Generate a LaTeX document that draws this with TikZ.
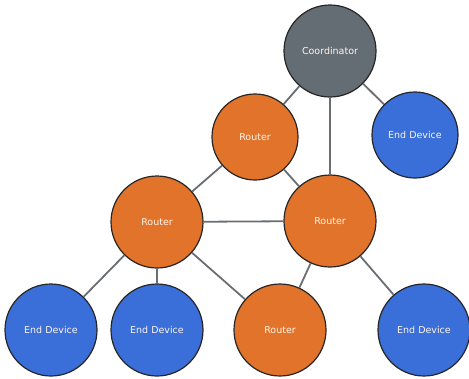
\documentclass[tikz,border=0pt]{standalone}
\usepackage{fontspec}
\setsansfont{DejaVu Sans}
\usepackage{xcolor}

\definecolor{coordgray}{HTML}{646C74}
\definecolor{routerorange}{HTML}{E2732A}
\definecolor{enddevblue}{HTML}{3A6ED8}
\definecolor{linkgray}{HTML}{6A6E72}

\begin{document}
\begin{tikzpicture}[
  x=1pt,
  y=-1pt,
  device/.style={
    circle,
    draw=black!85,
    line width=1.2pt,
    minimum size=92pt,
    inner sep=0pt,
    text=white!92!orange,
    font=\sffamily\fontsize{9.5}{11}\selectfont
  },
  coordinator/.style={device, fill=coordgray},
  router/.style={device, fill=routerorange},
  enddevice/.style={device, fill=enddevblue},
  link/.style={
    draw=linkgray,
    line width=1.8pt
  }
]
  \useasboundingbox (0,0) rectangle (469,378);

  \node[coordinator] (coord) at (330,51) {Coordinator};
  \node[router, minimum size=86pt] (rtop) at (255,137) {Router};
  \node[enddevice, minimum size=86pt] (edtop) at (415,135) {End Device};
  \node[router] (rleft) at (157,222) {Router};
  \node[router] (rright) at (330,221) {Router};
  \node[enddevice] (edone) at (51,330) {End Device};
  \node[enddevice] (edtwo) at (157,330) {End Device};
  \node[router] (rbot) at (280,330) {Router};
  \node[enddevice] (edfour) at (424,330) {End Device};

  \draw[link] (coord) -- (rtop);
  \draw[link] (coord) -- (edtop);
  \draw[link] (coord) -- (rright);
  \draw[link] (rtop) -- (rleft);
  \draw[link] (rtop) -- (rright);
  \draw[link] (rleft) -- (rright);
  \draw[link] (rleft) -- (edone);
  \draw[link] (rleft) -- (edtwo);
  \draw[link] (rleft) -- (rbot);
  \draw[link] (rright) -- (rbot);
  \draw[link] (rright) -- (edfour);
\end{tikzpicture}
\end{document}
